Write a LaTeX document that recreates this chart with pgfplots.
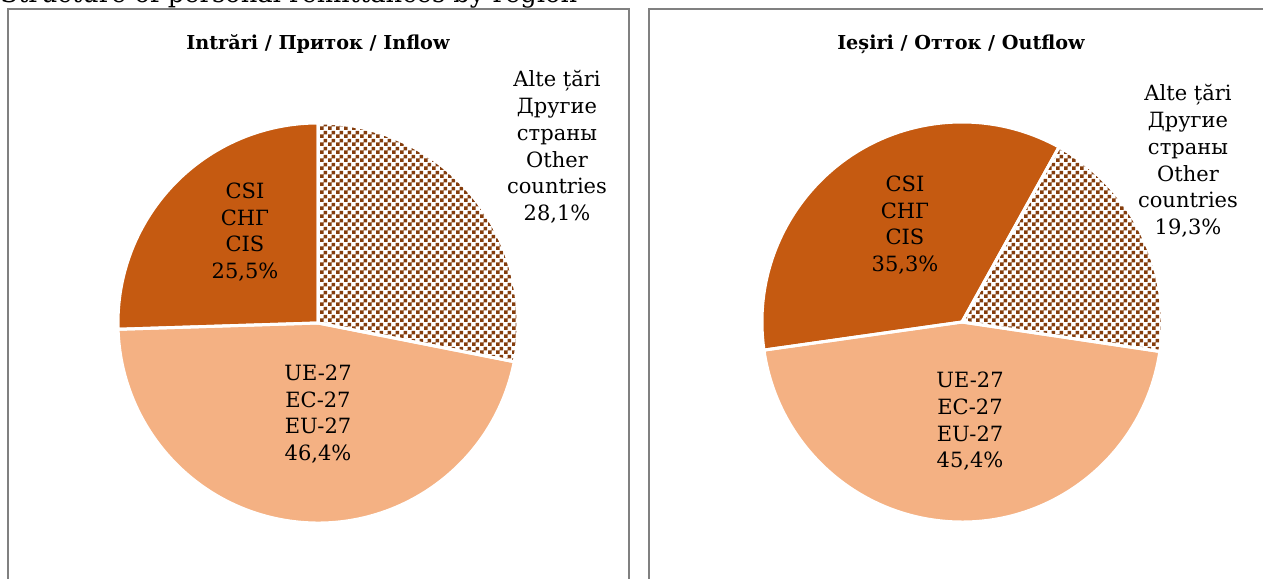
\documentclass[border=0pt]{standalone}
\usepackage{pgfplots}
\pgfplotsset{compat=1.18}
\usepackage{pgfplotstable}
\usetikzlibrary{patterns}
\usepackage{fontspec}
\setmainfont{DejaVu Serif}
\definecolor{cisc}{RGB}{197,90,17}
\definecolor{euc}{RGB}{244,177,131}
\definecolor{othc}{RGB}{132,60,12}
\definecolor{boxc}{RGB}{128,128,128}
\pgfdeclarepatternformonly{smallcheck}{\pgfpointorigin}{\pgfqpoint{4pt}{4pt}}{\pgfqpoint{4pt}{4pt}}{%
  \pgfpathrectangle{\pgfpointorigin}{\pgfqpoint{2pt}{2pt}}%
  \pgfpathrectangle{\pgfqpoint{2pt}{2pt}}{\pgfqpoint{2pt}{2pt}}%
  \pgfusepath{fill}}
\pgfplotstableread{
region value
Other 28.1
EU 46.4
CIS 25.5
}\inflowtbl
\pgfplotstableread{
region value
Other 19.3
EU 45.4
CIS 35.3
}\outflowtbl
\newcommand\pieslice[2]{(axis cs:0,0) -- +(#1:100pt) arc[start angle=#1, end angle=#2, radius=100pt] -- cycle}
\newcommand\lab{\fontsize{10.5}{13.35}\selectfont}
\begin{document}
\begin{tikzpicture}[x=0.5pt,y=0.5pt]
\useasboundingbox (0,0) rectangle (1263,578);
% angles from table values
\pgfplotstablegetelem{0}{value}\of\inflowtbl \let\inA\pgfplotsretval
\pgfplotstablegetelem{1}{value}\of\inflowtbl \let\inB\pgfplotsretval
\pgfplotstablegetelem{2}{value}\of\inflowtbl \let\inC\pgfplotsretval
\pgfmathsetmacro\iaA{90}
\pgfmathsetmacro\iaB{\iaA-3.6*\inA}
\pgfmathsetmacro\iaC{\iaB-3.6*\inB}
\pgfmathsetmacro\iaD{\iaC-3.6*\inC}
\pgfplotstablegetelem{0}{value}\of\outflowtbl \let\ouA\pgfplotsretval
\pgfplotstablegetelem{1}{value}\of\outflowtbl \let\ouB\pgfplotsretval
\pgfplotstablegetelem{2}{value}\of\outflowtbl \let\ouC\pgfplotsretval
\pgfmathsetmacro\oaA{61}
\pgfmathsetmacro\oaB{\oaA-3.6*\ouA}
\pgfmathsetmacro\oaC{\oaB-3.6*\ouB}
\pgfmathsetmacro\oaD{\oaC-3.6*\ouC}
% top heading (cut off, as in the reference)
\node[anchor=base west, inner sep=0pt, font=\fontsize{12.9}{14}\selectfont] at (0,575) {Structure of personal remittances by region};
% boxes
\draw[boxc, line width=1pt] (8,-10) |- (629,569) -- (629,-10);
\draw[boxc, line width=1pt] (649,-10) |- (1280,569);
% inflow
\begin{axis}[at={(8,0)}, anchor=south west, x=0.5pt, y=0.5pt,
  xmin=-310, xmax=311, ymin=-255, ymax=313, hide axis, clip=false]
\fill[white] \pieslice{\iaA}{\iaB};
\fill[pattern=smallcheck, pattern color=othc] \pieslice{\iaA}{\iaB};
\fill[euc] \pieslice{\iaB}{\iaC};
\fill[cisc] \pieslice{\iaC}{\iaD};
\draw[white, line width=1.5pt] \pieslice{\iaA}{\iaB};
\draw[white, line width=1.5pt] \pieslice{\iaB}{\iaC};
\draw[white, line width=1.5pt] \pieslice{\iaC}{\iaD};
\node[font=\bfseries\fontsize{9.6}{11}\selectfont] at (axis cs:0,279) {Intrări / Приток / Inflow};
\node[align=center, font=\lab] at (axis cs:239,176) {Alte țări\\Другие\\страны\\Other\\countries\\28,1\%};
\node[align=center, font=\lab] at (axis cs:-73,91) {CSI\\СНГ\\CIS\\25,5\%};
\node[align=center, font=\lab] at (axis cs:0,-91) {UE-27\\ЕС-27\\EU-27\\46,4\%};
\end{axis}
% outflow
\begin{axis}[at={(649,0)}, anchor=south west, x=0.5pt, y=0.5pt,
  xmin=-313, xmax=301, ymin=-256, ymax=312, hide axis, clip=false]
\fill[white] \pieslice{\oaA}{\oaB};
\fill[pattern=smallcheck, pattern color=othc] \pieslice{\oaA}{\oaB};
\fill[euc] \pieslice{\oaB}{\oaC};
\fill[cisc] \pieslice{\oaC}{\oaD};
\draw[white, line width=1.5pt] \pieslice{\oaA}{\oaB};
\draw[white, line width=1.5pt] \pieslice{\oaB}{\oaC};
\draw[white, line width=1.5pt] \pieslice{\oaC}{\oaD};
\node[font=\bfseries\fontsize{9.6}{11}\selectfont] at (axis cs:-1,278) {Ieșiri / Отток / Outflow};
\node[align=center, font=\lab] at (axis cs:226,161) {Alte țări\\Другие\\страны\\Other\\countries\\19,3\%};
\node[align=center, font=\lab] at (axis cs:-57,97) {CSI\\СНГ\\CIS\\35,3\%};
\node[align=center, font=\lab] at (axis cs:8,-99.5) {UE-27\\ЕС-27\\EU-27\\45,4\%};
\end{axis}
\end{tikzpicture}
\end{document}
